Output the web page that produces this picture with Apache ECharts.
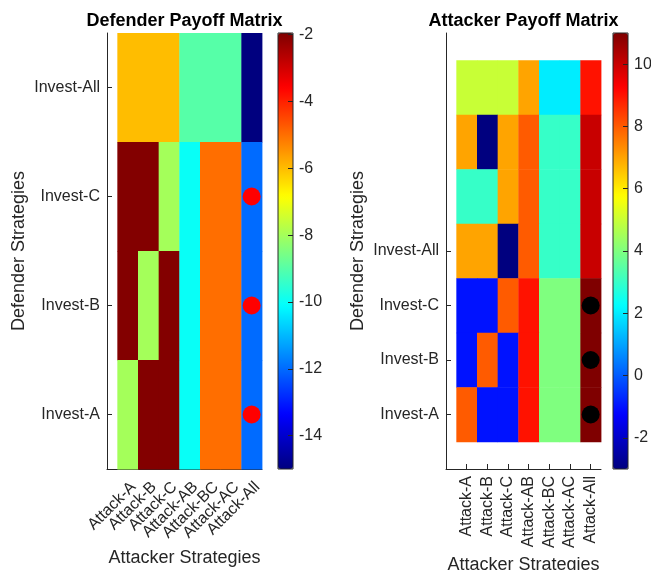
<!DOCTYPE html>
<html>
<head>
<meta charset="utf-8">
<script src="https://cdn.jsdelivr.net/npm/echarts@6/dist/echarts.min.js"></script>
<style>
  html, body { margin: 0; padding: 0; background: #fff; }
  #main { width: 651px; height: 570px; }
</style>
</head>
<body>
<div id="main"></div>
<script>
var attackNames = ["Attack-A", "Attack-B", "Attack-C", "Attack-AB", "Attack-BC", "Attack-AC", "Attack-All"];
var defenderRowNames = ["Invest-All", "Invest-C", "Invest-B", "Invest-A"];
var attackerRowNames = ["", "", "", "Invest-All", "Invest-C", "Invest-B", "Invest-A"];

// rows top to bottom
var defenderPayoff = [
  [-6, -6, -6, -9, -9, -9, -15],
  [-2, -2, -8, -10, -5, -5, -12],
  [-2, -8, -2, -10, -5, -5, -12],
  [-8, -2, -2, -10, -5, -5, -12]
];
var attackerPayoff = [
  [5, 5, 5, 7, 2, 2, 9],
  [7, -3, 7, 8, 3, 3, 10],
  [3, 3, 7, 8, 3, 3, 10],
  [7, 7, -3, 8, 3, 3, 10],
  [-1, -1, 8, 9, 4, 4, 11],
  [-1, 8, -1, 9, 4, 4, 11],
  [8, -1, -1, 9, 4, 4, 11]
];
var equilibria = [["Attack-All", "Invest-C"], ["Attack-All", "Invest-B"], ["Attack-All", "Invest-A"]];
var defenderTicks = [-14, -12, -10, -8, -6, -4, -2];
var attackerTicks = [-2, 0, 2, 4, 6, 8, 10];
var defenderRange = [-15, -1.95];
var attackerRange = [-3, 11];

var jet = ["#00007f", "#0000ff", "#007fff", "#00ffff", "#7fff7f", "#ffff00", "#ff7f00", "#ff0000", "#7f0000"];
var font = "'Liberation Sans', Arial, sans-serif";
var ink = "#262626";

function cells(matrix) {
  var out = [];
  for (var i = 0; i < matrix.length; i++) {
    for (var j = 0; j < matrix[i].length; j++) {
      out.push([j + 1, i + 1, matrix[i][j]]);
    }
  }
  return out;
}
function dots(rowNames) {
  return equilibria.map(function (e) {
    return [attackNames.indexOf(e[0]) + 1, rowNames.indexOf(e[1]) + 1];
  });
}
function renderCell(params, api) {
  var x = api.value(0), y = api.value(1);
  var p0 = api.coord([x - 0.5, y - 0.5]);
  var p1 = api.coord([x + 0.5, y + 0.5]);
  return {
    type: "rect",
    shape: {
      x: Math.min(p0[0], p1[0]),
      y: Math.min(p0[1], p1[1]),
      width: Math.abs(p1[0] - p0[0]) + 0.4,
      height: Math.abs(p1[1] - p0[1]) + 0.4
    },
    style: { fill: api.visual("color") }
  };
}
function idx(n) { var a = []; for (var i = 1; i <= n; i++) a.push(i); return a; }

function bottomAxis(grid, rotate, nameGap, values, label, extra) {
  var axisLabel = {
    customValues: values, rotate: rotate, margin: 7,
    showMinLabel: true, showMaxLabel: true, hideOverlap: false,
    fontFamily: font, fontSize: 16, color: ink,
    formatter: function (v) { return attackNames[v - 1] || ""; }
  };
  for (var k in label) axisLabel[k] = label[k];
  var axis = {
    type: "value", gridIndex: grid, position: "bottom", min: 0, max: 7.5,
    name: "Attacker Strategies", nameLocation: "middle", nameGap: nameGap,
    nameTextStyle: { fontFamily: font, fontSize: 18, color: ink },
    axisLine: { onZero: false, lineStyle: { color: ink, width: 1 } },
    axisTick: { inside: true, length: 5, customValues: idx(7), lineStyle: { color: ink } },
    axisLabel: axisLabel,
    splitLine: { show: false }
  };
  for (var e in extra) axis[e] = extra[e];
  return axis;
}
function topAxis(grid, title) {
  return {
    type: "value", gridIndex: grid, position: "top", min: 0, max: 1,
    name: title, nameLocation: "middle", nameGap: 3,
    nameTextStyle: { fontFamily: font, fontSize: 18, fontWeight: "bold", color: "#000" },
    axisLine: { show: false, onZero: false }, axisTick: { show: false }, axisLabel: { show: false },
    splitLine: { show: false }
  };
}
function leftAxis(grid, rowNames, min, max, ticks) {
  return {
    type: "value", gridIndex: grid, position: "left", min: min, max: max, inverse: true,
    name: "Defender Strategies", nameLocation: "middle", nameGap: 79,
    nameTextStyle: { fontFamily: font, fontSize: 18, color: ink },
    axisLine: { show: true, onZero: false, lineStyle: { color: ink, width: 1 } },
    axisTick: { show: true, inside: true, length: 5, customValues: ticks, lineStyle: { color: ink } },
    axisLabel: {
      customValues: ticks, margin: 7,
      showMinLabel: true, showMaxLabel: true, hideOverlap: false,
      fontFamily: font, fontSize: 16, color: ink,
      formatter: function (v) { return rowNames[v - 1] || ""; }
    },
    splitLine: { show: false }
  };
}
function barAxis(grid, range, ticks) {
  return {
    type: "value", gridIndex: grid, position: "right", min: range[0], max: range[1], z: 10,
    axisLine: { show: false, onZero: false },
    axisTick: { show: true, inside: true, length: 5, customValues: ticks, lineStyle: { color: ink } },
    axisLabel: { customValues: ticks, margin: 6, fontFamily: font, fontSize: 16, color: ink },
    splitLine: { show: false }
  };
}

var slant = { verticalAlign: "top", margin: 10 };
var myChart = echarts.init(document.getElementById("main"));
var option = {
  animation: false,
  backgroundColor: "#fff",
  grid: [
    { left: 107, top: 33, width: 155, height: 436, outerBoundsMode: "none" },
    { left: 446, top: 33, width: 155, height: 436, outerBoundsMode: "none" },
    { left: 278, top: 33, width: 15, height: 436, outerBoundsMode: "none", show: true, borderColor: ink, borderWidth: 1, backgroundColor: "transparent", z: 10 },
    { left: 613, top: 33, width: 15, height: 436, outerBoundsMode: "none", show: true, borderColor: ink, borderWidth: 1, backgroundColor: "transparent", z: 10 }
  ],
  xAxis: [
    bottomAxis(0, 45, 80, [1, 3, 5, 7], slant, {}),
    bottomAxis(1, 90, 83, idx(7), {}, {}),
    { type: "value", gridIndex: 2, show: false },
    { type: "value", gridIndex: 3, show: false },
    topAxis(0, "Defender Payoff Matrix"),
    topAxis(1, "Attacker Payoff Matrix"),
    // second label row for the slanted axis, so neighbouring labels are not dropped
    bottomAxis(0, 45, 80, [2, 4, 6], slant, { name: "", axisLine: { show: false, onZero: false }, axisTick: { show: false } })
  ],
  yAxis: [
    leftAxis(0, defenderRowNames, 0.5, 4.5, idx(4)),
    leftAxis(1, attackerRowNames, 0, 8, [4, 5, 6, 7]),
    barAxis(2, defenderRange, defenderTicks),
    barAxis(3, attackerRange, attackerTicks)
  ],
  visualMap: [
    {
      type: "continuous", seriesIndex: 0, dimension: 2,
      min: defenderRange[0], max: defenderRange[1], calculable: false,
      inRange: { color: jet }, orient: "vertical",
      left: 278, top: 33, itemWidth: 15, itemHeight: 436, padding: 0,
      text: null, z: 1, hoverLink: false
    },
    {
      type: "continuous", seriesIndex: 1, dimension: 2,
      min: attackerRange[0], max: attackerRange[1], calculable: false,
      inRange: { color: jet }, orient: "vertical",
      left: 613, top: 33, itemWidth: 15, itemHeight: 436, padding: 0,
      text: null, z: 1, hoverLink: false
    }
  ],
  series: [
    {
      type: "custom", xAxisIndex: 0, yAxisIndex: 0,
      renderItem: renderCell, encode: { x: 0, y: 1 },
      data: cells(defenderPayoff), silent: true
    },
    {
      type: "custom", xAxisIndex: 1, yAxisIndex: 1,
      renderItem: renderCell, encode: { x: 0, y: 1 },
      data: cells(attackerPayoff), silent: true
    },
    {
      type: "scatter", xAxisIndex: 0, yAxisIndex: 0, z: 5,
      symbol: "circle", symbolSize: 18,
      itemStyle: { color: "#ff0000", opacity: 1 },
      data: dots(defenderRowNames), silent: true
    },
    {
      type: "scatter", xAxisIndex: 1, yAxisIndex: 1, z: 5,
      symbol: "circle", symbolSize: 18,
      itemStyle: { color: "#000000", opacity: 1 },
      data: dots(attackerRowNames), silent: true
    }
  ]
};
myChart.setOption(option);
</script>
</body>
</html>
